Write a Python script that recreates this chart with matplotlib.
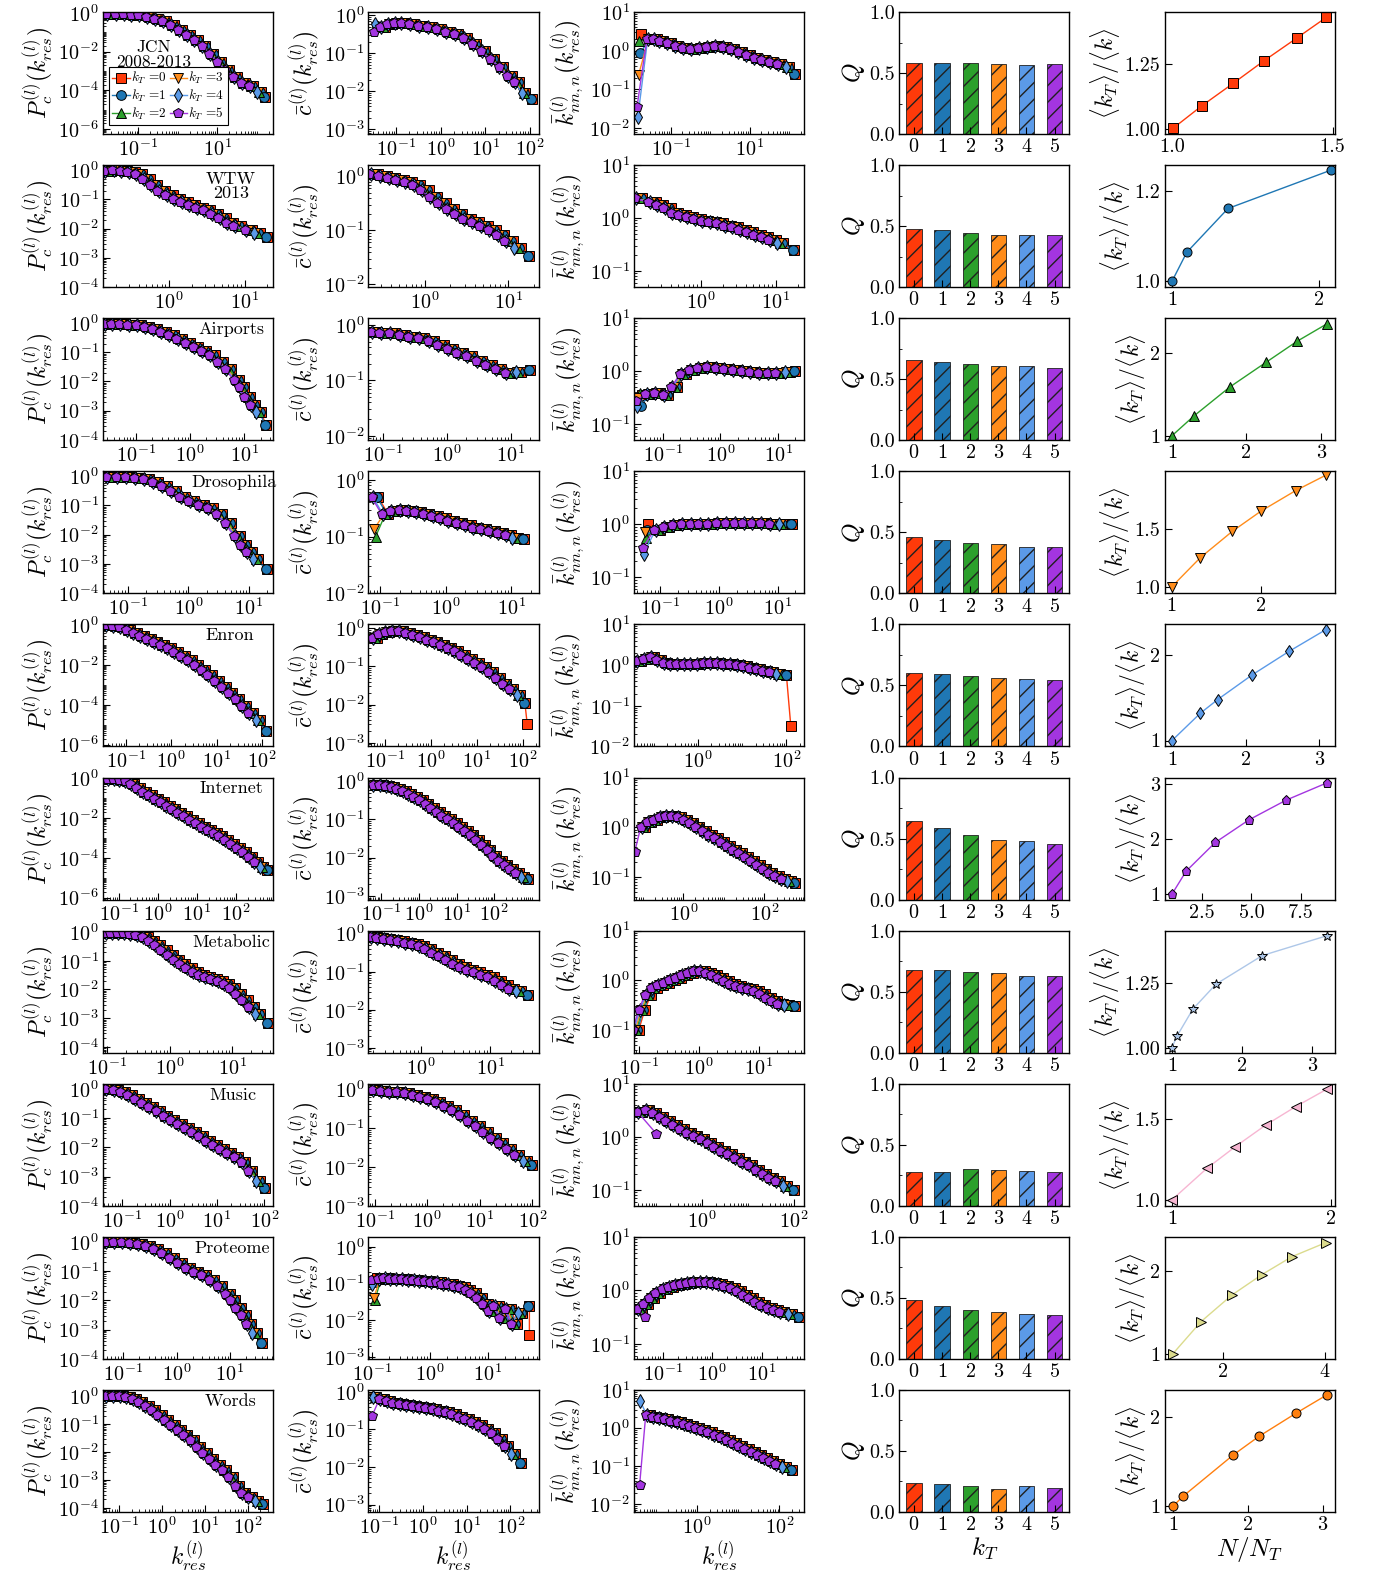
import numpy as np
import matplotlib
matplotlib.use('Agg')
import matplotlib.pyplot as plt
from matplotlib.ticker import FixedLocator, LogLocator, NullFormatter, LogFormatterSciNotation

plt.rcParams['mathtext.fontset'] = 'cm'
plt.rcParams['font.family'] = 'serif'
plt.rcParams['font.serif'] = ['cmr10']
plt.rcParams['axes.formatter.use_mathtext'] = True
plt.rcParams['axes.unicode_minus'] = False
plt.rcParams['hatch.linewidth'] = 1.0

# ---------------- data (log10 values) ----------------
NAMES = ['JCN', 'WTW', 'Airports', 'Drosophila', 'Enron',
         'Internet', 'Metabolic', 'Music', 'Proteome', 'Words']
KT = [0, 1, 2, 3, 4, 5]
# small shift of the renormalised curves and how many tail points each kT loses
KT_DX = [0.0, -0.02, -0.04, -0.06, -0.08, -0.10]
KT_CUT = [0, 0, 1, 1, 1, 2]

# JCN 2008-2013
jcn_pc_lx = [-1.72, -1.5, -1.3, -1.1, -0.9, -0.7, -0.5, -0.3, -0.1, 0.1, 0.3, 0.5, 0.7, 0.9, 1.1, 1.3, 1.5, 1.7, 1.9, 2.1, 2.2]
jcn_pc_ly = [-0.05, -0.06, -0.07, -0.09, -0.13, -0.2, -0.3, -0.45, -0.65, -0.9, -1.15, -1.4, -1.7, -2.1, -2.55, -2.95, -3.3, -3.6, -3.75, -4.1, -4.35]
jcn_c_lx = [-1.25, -1.1, -0.95, -0.8, -0.6, -0.4, -0.2, 0.0, 0.2, 0.4, 0.6, 0.8, 1.0, 1.2, 1.4, 1.6, 1.75, 1.9, 2.05]
jcn_c_ly = [-0.3, -0.22, -0.2, -0.21, -0.24, -0.27, -0.31, -0.37, -0.43, -0.5, -0.6, -0.75, -0.95, -1.15, -1.35, -1.6, -1.75, -2.05, -2.2]
jcn_c_head = (-1.4, [-0.3, -0.28, -0.3, -0.3, -0.24, -0.45])
jcn_knn_lx = [-1.5, -1.35, -1.2, -1.0, -0.8, -0.6, -0.4, -0.2, 0.0, 0.2, 0.4, 0.6, 0.8, 1.0, 1.2, 1.4, 1.6, 1.8, 2.0, 2.15]
jcn_knn_ly = [0.3, 0.3, 0.25, 0.2, 0.12, 0.06, 0.04, 0.06, 0.1, 0.12, 0.1, 0.05, -0.03, -0.1, -0.18, -0.25, -0.3, -0.35, -0.42, -0.6]
jcn_knn_head = (-1.75, [0.42, -0.05, 0.25, -0.62, -1.72, -1.45])
jcn_q = [0.58, 0.58, 0.58, 0.575, 0.565, 0.57]
jcn_nn = [1.003, 1.093, 1.19, 1.285, 1.39, 1.48]
jcn_kk = [1.004, 1.091, 1.177, 1.263, 1.353, 1.431]

# WTW 2013
wtw_pc_lx = [-0.76, -0.65, -0.55, -0.45, -0.35, -0.25, -0.15, -0.05, 0.05, 0.15, 0.25, 0.35, 0.45, 0.55, 0.65, 0.75, 0.85, 0.95, 1.1, 1.2, 1.3]
wtw_pc_ly = [-0.02, -0.01, -0.02, -0.05, -0.12, -0.3, -0.5, -0.7, -0.85, -0.98, -1.1, -1.2, -1.28, -1.35, -1.5, -1.65, -1.8, -1.9, -2.05, -2.15, -2.27]
wtw_c_lx = [-0.56, -0.45, -0.35, -0.25, -0.15, -0.05, 0.05, 0.15, 0.25, 0.35, 0.45, 0.55, 0.65, 0.75, 0.85, 0.95, 1.05, 1.15, 1.25]
wtw_c_ly = [0.05, 0.0, -0.03, -0.06, -0.1, -0.15, -0.25, -0.38, -0.5, -0.6, -0.7, -0.78, -0.85, -0.92, -1.0, -1.08, -1.2, -1.33, -1.47]
wtw_knn_lx = [-0.78, -0.6, -0.5, -0.4, -0.3, -0.2, -0.1, 0.0, 0.1, 0.2, 0.3, 0.4, 0.5, 0.6, 0.7, 0.8, 0.9, 1.0, 1.1, 1.25]
wtw_knn_ly = [0.37, 0.3, 0.25, 0.18, 0.1, 0.06, 0.02, -0.02, -0.06, -0.08, -0.1, -0.15, -0.18, -0.22, -0.27, -0.32, -0.37, -0.42, -0.48, -0.6]
wtw_q = [0.48, 0.47, 0.445, 0.43, 0.43, 0.425]
wtw_nn = [1.0, 1.1, 1.38, 2.08]
wtw_kk = [1.0, 1.064, 1.161, 1.246]

# Airports
air_pc_lx = [-1.49, -1.35, -1.2, -1.05, -0.9, -0.75, -0.6, -0.45, -0.3, -0.15, 0.0, 0.15, 0.3, 0.45, 0.6, 0.75, 0.9, 1.0, 1.1, 1.2, 1.3, 1.4]
air_pc_ly = [-0.03, -0.02, -0.03, -0.05, -0.08, -0.12, -0.2, -0.3, -0.42, -0.55, -0.68, -0.82, -0.95, -1.1, -1.32, -1.58, -1.95, -2.2, -2.55, -2.8, -3.05, -3.5]
air_c_lx = [-1.08, -0.95, -0.8, -0.65, -0.5, -0.35, -0.2, -0.05, 0.1, 0.25, 0.4, 0.55, 0.7, 0.85, 1.0, 1.15, 1.3]
air_c_ly = [-0.13, -0.14, -0.15, -0.18, -0.21, -0.24, -0.29, -0.36, -0.43, -0.5, -0.57, -0.65, -0.72, -0.8, -0.86, -0.85, -0.82]
air_knn_lx = [-1.2, -1.05, -0.9, -0.75, -0.6, -0.45, -0.3, -0.15, 0.0, 0.15, 0.3, 0.45, 0.6, 0.75, 0.9, 1.05, 1.2, 1.3]
air_knn_ly = [-0.42, -0.4, -0.45, -0.3, -0.05, 0.03, 0.07, 0.08, 0.07, 0.05, 0.03, 0.0, -0.02, -0.03, -0.04, -0.03, -0.01, 0.0]
air_knn_head = (-1.36, [-0.45, -0.66, -0.4, -0.5, -0.66, -0.56])
air_q = [0.66, 0.645, 0.625, 0.61, 0.605, 0.595]
air_nn = [1.0, 1.29, 1.78, 2.27, 2.68, 3.08]
air_kk = [1.0, 1.235, 1.59, 1.89, 2.14, 2.35]

# Drosophila
dro_pc_lx = [-1.26, -1.1, -0.95, -0.8, -0.65, -0.5, -0.35, -0.2, -0.05, 0.1, 0.25, 0.4, 0.55, 0.7, 0.85, 0.95, 1.05, 1.15, 1.3]
dro_pc_ly = [-0.01, -0.01, -0.02, -0.05, -0.1, -0.2, -0.35, -0.5, -0.7, -0.85, -0.97, -1.1, -1.3, -1.6, -2.05, -2.35, -2.6, -2.85, -3.2]
dro_c_lx = [-0.88, -0.75, -0.62, -0.5, -0.38, -0.25, -0.12, 0.0, 0.12, 0.25, 0.38, 0.5, 0.62, 0.75, 0.88, 1.0, 1.1, 1.2]
dro_c_ly = [-0.6, -0.55, -0.54, -0.55, -0.57, -0.6, -0.64, -0.68, -0.72, -0.76, -0.8, -0.84, -0.87, -0.9, -0.94, -0.98, -1.02, -1.05]
dro_c_head = (-1.03, [-0.31, -0.31, -1.0, -0.86, -0.31, -0.31])
dro_knn_lx = [-1.0, -0.85, -0.7, -0.55, -0.4, -0.25, -0.1, 0.05, 0.2, 0.35, 0.5, 0.65, 0.8, 0.95, 1.1, 1.25]
dro_knn_ly = [-0.1, -0.05, -0.02, 0.0, 0.0, 0.01, 0.01, 0.02, 0.02, 0.03, 0.03, 0.02, 0.02, 0.01, 0.0, 0.0]
dro_knn_head = (-1.2, [0.0, -0.1, -0.25, -0.15, -0.55, -0.45])
dro_q = [0.46, 0.44, 0.415, 0.405, 0.38, 0.38]
dro_nn = [1.0, 1.32, 1.68, 2.0, 2.39, 2.73]
dro_kk = [1.0, 1.25, 1.477, 1.65, 1.827, 1.96]

# Enron
enr_pc_lx = [-1.35, -1.2, -1.05, -0.9, -0.75, -0.6, -0.45, -0.3, -0.15, 0.0, 0.15, 0.3, 0.45, 0.6, 0.75, 0.9, 1.05, 1.2, 1.35, 1.5, 1.65, 1.8, 1.95, 2.1]
enr_pc_ly = [0.0, -0.03, -0.1, -0.25, -0.4, -0.55, -0.7, -0.85, -1.0, -1.15, -1.35, -1.55, -1.75, -2.0, -2.25, -2.5, -2.8, -3.1, -3.4, -3.7, -4.05, -4.4, -4.75, -5.3]
enr_c_lx = [-1.17, -1.05, -0.9, -0.75, -0.6, -0.45, -0.3, -0.15, 0.0, 0.15, 0.3, 0.45, 0.6, 0.75, 0.9, 1.05, 1.2, 1.35, 1.5, 1.65, 1.8, 1.95, 2.05]
enr_c_ly = [-0.25, -0.15, -0.1, -0.06, -0.08, -0.12, -0.17, -0.23, -0.3, -0.37, -0.44, -0.52, -0.6, -0.7, -0.8, -0.9, -1.02, -1.15, -1.3, -1.45, -1.6, -1.75, -1.95]
enr_c_tail = {0: (2.1, -2.5)}
enr_knn_lx = [-1.3, -1.15, -1.0, -0.85, -0.7, -0.55, -0.4, -0.25, -0.1, 0.05, 0.2, 0.35, 0.5, 0.65, 0.8, 0.95, 1.1, 1.25, 1.4, 1.55, 1.7, 1.85, 2.0]
enr_knn_ly = [0.1, 0.15, 0.2, 0.12, 0.05, 0.03, 0.02, 0.02, 0.02, 0.03, 0.04, 0.04, 0.04, 0.03, 0.02, 0.0, -0.03, -0.07, -0.1, -0.14, -0.18, -0.22, -0.25]
enr_knn_tail = {0: (2.1, -1.5)}
enr_q = [0.6, 0.59, 0.58, 0.565, 0.55, 0.545]
enr_nn = [1.0, 1.385, 1.62, 2.09, 2.59, 3.09]
enr_kk = [1.0, 1.32, 1.48, 1.77, 2.045, 2.3]

# Internet
int_pc_lx = [-1.2, -1.05, -0.9, -0.75, -0.6, -0.45, -0.3, -0.15, 0.0, 0.15, 0.3, 0.45, 0.6, 0.75, 0.9, 1.05, 1.2, 1.35, 1.5, 1.65, 1.8, 1.95, 2.1, 2.25, 2.4, 2.55, 2.7, 2.8]
int_pc_ly = [-0.01, -0.02, -0.06, -0.15, -0.3, -0.5, -0.68, -0.85, -1.02, -1.2, -1.38, -1.55, -1.72, -1.9, -2.08, -2.25, -2.42, -2.58, -2.75, -2.92, -3.1, -3.3, -3.5, -3.7, -3.95, -4.2, -4.45, -4.6]
int_c_lx = [-1.13, -0.95, -0.8, -0.65, -0.5, -0.35, -0.2, -0.05, 0.1, 0.25, 0.4, 0.55, 0.7, 0.85, 1.0, 1.15, 1.3, 1.45, 1.6, 1.75, 1.9, 2.05, 2.2, 2.35, 2.5, 2.65, 2.8, 2.9]
int_c_ly = [-0.1, -0.1, -0.13, -0.16, -0.2, -0.25, -0.32, -0.4, -0.5, -0.6, -0.7, -0.8, -0.9, -1.0, -1.1, -1.2, -1.3, -1.42, -1.55, -1.68, -1.8, -1.95, -2.1, -2.2, -2.3, -2.4, -2.5, -2.55]
int_knn_lx = [-0.95, -0.8, -0.65, -0.5, -0.35, -0.2, -0.05, 0.1, 0.25, 0.4, 0.55, 0.7, 0.85, 1.0, 1.15, 1.3, 1.45, 1.6, 1.75, 1.9, 2.05, 2.2, 2.35, 2.5, 2.65, 2.75]
int_knn_ly = [0.0, 0.1, 0.15, 0.2, 0.22, 0.22, 0.2, 0.15, 0.08, 0.0, -0.08, -0.15, -0.22, -0.3, -0.38, -0.45, -0.52, -0.6, -0.68, -0.76, -0.84, -0.92, -0.98, -1.03, -1.08, -1.12]
int_knn_head = (-1.1, [None, None, None, None, None, -0.5])
int_q = [0.64, 0.59, 0.53, 0.49, 0.48, 0.455]
int_nn = [0.995, 1.70, 3.17, 4.87, 6.76, 8.80]
int_kk = [1.0, 1.41, 1.93, 2.34, 2.7, 3.01]

# Metabolic
met_pc_lx = [-0.95, -0.85, -0.75, -0.65, -0.55, -0.45, -0.35, -0.25, -0.15, -0.05, 0.05, 0.15, 0.25, 0.35, 0.45, 0.55, 0.65, 0.75, 0.85, 0.95, 1.05, 1.15, 1.25, 1.35, 1.45, 1.58]
met_pc_ly = [-0.02, -0.02, -0.03, -0.04, -0.06, -0.1, -0.17, -0.3, -0.45, -0.62, -0.8, -0.98, -1.12, -1.25, -1.38, -1.48, -1.55, -1.63, -1.72, -1.82, -1.95, -2.15, -2.35, -2.6, -2.85, -3.15]
met_c_lx = [-0.64, -0.55, -0.45, -0.35, -0.25, -0.15, -0.05, 0.05, 0.15, 0.25, 0.35, 0.45, 0.55, 0.65, 0.75, 0.85, 0.95, 1.05, 1.15, 1.25, 1.35, 1.45, 1.55]
met_c_ly = [-0.1, -0.12, -0.14, -0.17, -0.2, -0.24, -0.28, -0.33, -0.4, -0.5, -0.6, -0.7, -0.8, -0.88, -0.95, -1.02, -1.08, -1.15, -1.25, -1.35, -1.45, -1.52, -1.6]
met_knn_lx = [-1.0, -0.9, -0.8, -0.7, -0.6, -0.5, -0.4, -0.3, -0.2, -0.1, 0.0, 0.1, 0.2, 0.3, 0.4, 0.5, 0.6, 0.7, 0.8, 0.9, 1.0, 1.1, 1.2, 1.3, 1.4, 1.5, 1.6]
met_knn_ly = [-1.0, -0.6, -0.3, -0.15, -0.1, -0.05, 0.0, 0.05, 0.1, 0.15, 0.18, 0.18, 0.15, 0.1, 0.05, -0.02, -0.08, -0.12, -0.15, -0.18, -0.22, -0.28, -0.35, -0.42, -0.48, -0.5, -0.52]
met_q = [0.68, 0.675, 0.665, 0.655, 0.625, 0.625]
met_nn = [1.0, 1.075, 1.3, 1.63, 2.29, 3.21]
met_kk = [1.0, 1.046, 1.15, 1.247, 1.358, 1.435]

# Music
mus_pc_lx = [-1.26, -1.1, -0.95, -0.8, -0.65, -0.5, -0.35, -0.2, -0.05, 0.1, 0.25, 0.4, 0.55, 0.7, 0.85, 1.0, 1.15, 1.3, 1.45, 1.6, 1.75, 1.9, 2.02]
mus_pc_ly = [-0.02, -0.03, -0.1, -0.22, -0.35, -0.48, -0.62, -0.77, -0.92, -1.08, -1.22, -1.35, -1.48, -1.62, -1.77, -1.92, -2.05, -2.18, -2.32, -2.5, -2.8, -3.15, -3.4]
mus_c_lx = [-0.95, -0.8, -0.65, -0.5, -0.35, -0.2, -0.05, 0.1, 0.25, 0.4, 0.55, 0.7, 0.85, 1.0, 1.15, 1.3, 1.45, 1.6, 1.75, 1.9, 2.0]
mus_c_ly = [-0.04, -0.05, -0.07, -0.09, -0.12, -0.15, -0.2, -0.26, -0.34, -0.44, -0.55, -0.68, -0.82, -0.96, -1.1, -1.25, -1.4, -1.55, -1.7, -1.85, -1.95]
mus_knn_lx = [-1.31, -1.15, -1.0, -0.85, -0.7, -0.55, -0.4, -0.25, -0.1, 0.05, 0.2, 0.35, 0.5, 0.65, 0.8, 0.95, 1.1, 1.25, 1.4, 1.55, 1.7, 1.85, 2.0]
mus_knn_ly = [0.47, 0.5, 0.45, 0.37, 0.3, 0.22, 0.15, 0.08, 0.02, -0.05, -0.12, -0.19, -0.26, -0.33, -0.4, -0.47, -0.54, -0.62, -0.7, -0.77, -0.84, -0.92, -1.0]
mus_knn_head = (-0.9, [None, None, None, None, None, 0.06])
mus_q = [0.28, 0.28, 0.30, 0.29, 0.285, 0.275]
mus_nn = [1.0, 1.22, 1.4, 1.59, 1.78, 1.98]
mus_kk = [1.0, 1.195, 1.33, 1.463, 1.578, 1.688]

# Proteome
pro_pc_lx = [-1.25, -1.1, -0.95, -0.8, -0.65, -0.5, -0.35, -0.2, -0.05, 0.1, 0.25, 0.4, 0.55, 0.7, 0.85, 1.0, 1.1, 1.2, 1.3, 1.4, 1.5, 1.6]
pro_pc_ly = [-0.02, -0.02, -0.02, -0.04, -0.08, -0.14, -0.25, -0.38, -0.55, -0.72, -0.88, -1.02, -1.15, -1.32, -1.52, -1.78, -2.0, -2.25, -2.5, -2.8, -3.1, -3.45]
pro_c_lx = [-0.8, -0.7, -0.6, -0.5, -0.4, -0.3, -0.2, -0.1, 0.0, 0.1, 0.2, 0.3, 0.4, 0.5, 0.6, 0.7, 0.8, 0.9, 1.0, 1.1, 1.2, 1.3, 1.4, 1.5, 1.6, 1.72]
pro_c_ly = [-0.88, -0.85, -0.87, -0.88, -0.87, -0.9, -0.9, -0.92, -0.93, -0.95, -0.97, -1.0, -1.02, -1.06, -1.1, -1.18, -1.25, -1.4, -1.55, -1.75, -1.6, -1.95, -1.7, -2.1, -1.8, -1.6]
pro_c_head = (-0.91, [-0.85, -0.95, -1.45, -1.4, -1.0, -0.9])
pro_c_tail = {0: (1.72, -2.4)}
pro_knn_lx = [-1.42, -1.3, -1.18, -1.05, -0.92, -0.8, -0.67, -0.55, -0.42, -0.3, -0.17, -0.05, 0.08, 0.2, 0.32, 0.45, 0.57, 0.7, 0.82, 0.95, 1.07, 1.2, 1.32, 1.45, 1.6, 1.74]
pro_knn_ly = [-0.35, -0.25, -0.15, -0.05, 0.02, 0.07, 0.1, 0.12, 0.14, 0.15, 0.16, 0.16, 0.14, 0.12, 0.08, 0.04, -0.02, -0.08, -0.15, -0.22, -0.28, -0.33, -0.37, -0.4, -0.45, -0.5]
pro_knn_head = (-1.25, [None, None, None, None, None, -0.5])
pro_q = [0.48, 0.43, 0.40, 0.385, 0.365, 0.36]
pro_nn = [1.0, 1.56, 2.17, 2.76, 3.35, 4.02]
pro_kk = [1.0, 1.39, 1.71, 1.955, 2.17, 2.34]

# Words
wor_pc_lx = [-1.22, -1.05, -0.9, -0.75, -0.6, -0.45, -0.3, -0.15, 0.0, 0.15, 0.3, 0.45, 0.6, 0.75, 0.9, 1.05, 1.2, 1.35, 1.5, 1.65, 1.8, 1.95, 2.1, 2.25, 2.35]
wor_pc_ly = [0.02, 0.02, 0.01, -0.01, -0.08, -0.2, -0.35, -0.5, -0.68, -0.85, -1.02, -1.2, -1.38, -1.58, -1.82, -2.05, -2.25, -2.45, -2.65, -2.9, -3.2, -3.45, -3.6, -3.75, -3.85]
wor_c_lx = [-0.9, -0.75, -0.6, -0.45, -0.3, -0.15, 0.0, 0.15, 0.3, 0.45, 0.6, 0.75, 0.9, 1.05, 1.2, 1.35, 1.5, 1.65, 1.8, 1.95, 2.1, 2.25]
wor_c_ly = [-0.2, -0.25, -0.3, -0.32, -0.35, -0.37, -0.4, -0.43, -0.47, -0.5, -0.55, -0.6, -0.66, -0.73, -0.8, -0.88, -0.98, -1.1, -1.25, -1.45, -1.65, -1.9]
wor_c_head = (-1.07, [-0.15, -0.15, -0.15, -0.15, -0.15, -0.65])
wor_knn_lx = [-1.15, -1.0, -0.85, -0.7, -0.55, -0.4, -0.25, -0.1, 0.05, 0.2, 0.35, 0.5, 0.65, 0.8, 0.95, 1.1, 1.25, 1.4, 1.55, 1.7, 1.85, 2.0, 2.15, 2.3]
wor_knn_ly = [0.35, 0.3, 0.27, 0.23, 0.19, 0.15, 0.1, 0.05, 0.0, -0.05, -0.11, -0.17, -0.24, -0.31, -0.38, -0.46, -0.54, -0.62, -0.7, -0.78, -0.86, -0.94, -1.02, -1.1]
wor_knn_head = (-1.3, [None, None, None, None, 0.7, -1.5])
wor_q = [0.24, 0.23, 0.21, 0.185, 0.21, 0.20]
wor_nn = [1.0, 1.14, 1.81, 2.15, 2.64, 3.06]
wor_kk = [1.0, 1.116, 1.58, 1.787, 2.045, 2.255]

PC = [(jcn_pc_lx, jcn_pc_ly), (wtw_pc_lx, wtw_pc_ly), (air_pc_lx, air_pc_ly), (dro_pc_lx, dro_pc_ly),
      (enr_pc_lx, enr_pc_ly), (int_pc_lx, int_pc_ly), (met_pc_lx, met_pc_ly), (mus_pc_lx, mus_pc_ly),
      (pro_pc_lx, pro_pc_ly), (wor_pc_lx, wor_pc_ly)]
CC = [(jcn_c_lx, jcn_c_ly), (wtw_c_lx, wtw_c_ly), (air_c_lx, air_c_ly), (dro_c_lx, dro_c_ly),
      (enr_c_lx, enr_c_ly), (int_c_lx, int_c_ly), (met_c_lx, met_c_ly), (mus_c_lx, mus_c_ly),
      (pro_c_lx, pro_c_ly), (wor_c_lx, wor_c_ly)]
KNN = [(jcn_knn_lx, jcn_knn_ly), (wtw_knn_lx, wtw_knn_ly), (air_knn_lx, air_knn_ly), (dro_knn_lx, dro_knn_ly),
       (enr_knn_lx, enr_knn_ly), (int_knn_lx, int_knn_ly), (met_knn_lx, met_knn_ly), (mus_knn_lx, mus_knn_ly),
       (pro_knn_lx, pro_knn_ly), (wor_knn_lx, wor_knn_ly)]
C_HEAD = {0: jcn_c_head, 3: dro_c_head, 8: pro_c_head, 9: wor_c_head}
KNN_HEAD = {0: jcn_knn_head, 2: air_knn_head, 3: dro_knn_head, 5: int_knn_head,
            7: mus_knn_head, 8: pro_knn_head, 9: wor_knn_head}
C_TAIL = {4: enr_c_tail, 8: pro_c_tail}
KNN_TAIL = {4: enr_knn_tail}
Q = [jcn_q, wtw_q, air_q, dro_q, enr_q, int_q, met_q, mus_q, pro_q, wor_q]
NN = [jcn_nn, wtw_nn, air_nn, dro_nn, enr_nn, int_nn, met_nn, mus_nn, pro_nn, wor_nn]
KK = [jcn_kk, wtw_kk, air_kk, dro_kk, enr_kk, int_kk, met_kk, mus_kk, pro_kk, wor_kk]

# ---------------- styles and axis layout ----------------
COLORS = ['#ff3a0a', '#1f77b4', '#2ca02c', '#ff8c1a', '#5b9ae8', '#a335e0']
MARKERS = ['s', 'o', '^', 'v', 'd', 'p']
LAST_COLORS = COLORS + ['#aec7e8', '#f7b6d2', '#dbdb8d', '#ff7f0e']
LAST_MARKERS = ['s', 'o', '^', 'v', 'd', 'p', '*', '<', '>', 'o']

PC_XLIM = [(-1.9, 2.42), (-0.87, 1.38), (-1.6, 1.53), (-1.41, 1.4), (-1.5, 2.25),
           (-1.4, 2.95), (-1.07, 1.66), (-1.41, 2.19), (-1.38, 1.81), (-1.37, 2.6)]
PC_YLIM = [(-6.25, 0.04), (-4.0, 0.17), (-4.02, 0.17), (-4.02, 0.17), (-6.1, 0.05),
           (-6.1, 0.05), (-4.2, 0.05), (-4.0, 0.17), (-4.0, 0.17), (-4.15, 0.23)]
PC_XT = [[-1, 1], [0, 1], [-1, 0, 1], [-1, 0, 1], [-1, 0, 1, 2],
         [-1, 0, 1, 2], [-1, 0, 1], [-1, 0, 1, 2], [-1, 0, 1], [-1, 0, 1, 2]]
C_XLIM = [(-1.62, 2.2), (-0.67, 1.36), (-1.22, 1.43), (-1.18, 1.42), (-1.35, 2.35),
          (-1.34, 3.18), (-0.76, 1.7), (-1.12, 2.12), (-1.06, 1.88), (-1.25, 2.65)]
C_YLIM = [(-3.13, 0.09), (-2.05, 0.21), (-2.08, 0.12), (-2.0, 0.15), (-3.1, 0.1),
          (-3.1, 0.1), (-3.13, 0.08), (-3.0, 0.13), (-3.05, 0.27), (-3.2, 0.05)]
C_XT = [[-1, 0, 1, 2], [0, 1], [-1, 0, 1], [-1, 0, 1], [-1, 0, 1, 2],
        [-1, 0, 1, 2], [0, 1], [-1, 0, 1, 2], [-1, 0, 1], [-1, 0, 1, 2]]
K_XLIM = [(-1.93, 2.38), (-0.89, 1.38), (-1.5, 1.45), (-1.45, 1.45), (-1.46, 2.4),
          (-1.22, 2.98), (-1.08, 1.75), (-1.49, 2.23), (-1.58, 1.85), (-1.54, 2.6)]
K_YLIM = [(-2.15, 1.0), (-1.31, 1.0), (-1.3, 1.0), (-1.3, 1.0), (-2.0, 1.0),
          (-1.45, 1.0), (-1.45, 1.0), (-1.3, 1.0), (-1.28, 1.0), (-2.2, 1.0)]
K_XT = [[-1, 1], [0, 1], [-1, 0, 1], [-1, 0, 1], [0, 2],
        [0, 2], [-1, 0, 1], [0, 2], [-1, 0, 1], [0, 2]]

L_XLIM = [(0.977, 1.507), (0.95, 2.105), (0.9, 3.19), (0.92, 2.83), (0.9, 3.21),
          (0.61, 9.22), (0.896, 3.325), (0.954, 2.027), (0.84, 4.2), (0.89, 3.165)]
L_YLIM = [(0.982, 1.452), (0.987, 1.257), (0.944, 2.42), (0.943, 1.993), (0.93, 2.36),
          (0.893, 3.11), (0.98, 1.455), (0.963, 1.72), (0.94, 2.41), (0.936, 2.31)]
L_XT = [([1.0, 1.5], ['1.0', '1.5']), ([1, 2], ['1', '2']), ([1, 2, 3], ['1', '2', '3']),
        ([1, 2], ['1', '2']), ([1, 2, 3], ['1', '2', '3']), ([2.5, 5.0, 7.5], ['2.5', '5.0', '7.5']),
        ([1, 2, 3], ['1', '2', '3']), ([1, 2], ['1', '2']), ([2, 4], ['2', '4']), ([1, 2, 3], ['1', '2', '3'])]
L_YT = [([1.0, 1.25], ['1.00', '1.25']), ([1.0, 1.2], ['1.0', '1.2']), ([1, 2], ['1', '2']),
        ([1.0, 1.5], ['1.0', '1.5']), ([1, 2], ['1', '2']), ([1, 2, 3], ['1', '2', '3']),
        ([1.0, 1.25], ['1.00', '1.25']), ([1.0, 1.5], ['1.0', '1.5']), ([1, 2], ['1', '2']), ([1, 2], ['1', '2'])]

LABEL_POS = [None, (0.75, 0.95, 'center'), (0.95, 0.97, 'right'), (1.02, 0.97, 'right'),
             (0.89, 0.97, 'right'), (0.94, 0.97, 'right'), (0.98, 0.97, 'right'),
             (0.9, 0.97, 'right'), (0.98, 0.97, 'right'), (0.9, 0.97, 'right')]
LABEL_TXT = [None, 'WTW\n2013', 'Airports', 'Drosophila', 'Enron', 'Internet',
             'Metabolic', 'Music', 'Proteome', 'Words']

TICK_FS = 14.5
LAB_FS = 17


def style_ticks(ax):
    ax.tick_params(which='both', direction='in', top=False, right=False, labelsize=TICK_FS)
    ax.tick_params(which='major', length=5, width=0.8, pad=3)
    ax.tick_params(which='minor', length=2.5, width=0.6)


def log_axes(ax, xlim, ylim, xt, yt):
    ax.set_xscale('log')
    ax.set_yscale('log')
    ax.set_xlim(10 ** xlim[0], 10 ** xlim[1])
    ax.set_ylim(10 ** ylim[0], 10 ** ylim[1])
    for axis, t in ((ax.xaxis, xt), (ax.yaxis, yt)):
        axis.set_major_locator(FixedLocator(10.0 ** np.array(t)))
        axis.set_major_formatter(LogFormatterSciNotation())
        axis.set_minor_locator(LogLocator(base=10, subs=np.arange(1, 10), numticks=60))
        axis.set_minor_formatter(NullFormatter())
    style_ticks(ax)


def draw_kt(ax, lx, ly, head=None, tail=None):
    lines = []
    for k in KT:
        n = len(lx) - KT_CUT[k]
        xs = list(lx[:n])
        ys = list(ly[:n])
        if head is not None and head[1][k] is not None:
            xs = [head[0]] + xs
            ys = [head[1][k]] + ys
        if tail is not None and k in tail:
            xs.append(tail[k][0])
            ys.append(tail[k][1])
        xs = 10 ** (np.array(xs) + KT_DX[k])
        ys = 10 ** np.array(ys)
        ln, = ax.plot(xs, ys, marker=MARKERS[k], color=COLORS[k], mec='k', mew=0.7,
                      ms=7, lw=1, label=r'$k_T$ =%d' % k)
        lines.append(ln)
    return lines


fig, axes = plt.subplots(10, 5, figsize=(13.79, 15.76), dpi=100)
fig.subplots_adjust(left=0.0747, right=0.968, top=0.9924, bottom=0.0406, wspace=0.559, hspace=0.254)

for r in range(10):
    a1, a2, a3, a4, a5 = axes[r]

    # cumulative degree distribution
    lines = draw_kt(a1, *PC[r])
    yt = [-6, -4, -2, 0] if PC_YLIM[r][0] < -5 else [-4, -3, -2, -1, 0]
    log_axes(a1, PC_XLIM[r], PC_YLIM[r], PC_XT[r], yt)
    a1.set_ylabel(r'$P_c^{(l)}(k_{res}^{(l)})$', fontsize=LAB_FS, labelpad=2)
    if r == 0:
        a1.text(0.3, 0.65, 'JCN\n2008-2013', transform=a1.transAxes, ha='center', va='center',
                fontsize=12.5, linespacing=0.95)
        leg = a1.legend(handles=lines, ncol=2, loc='lower left', bbox_to_anchor=(0.02, 0.05),
                        fontsize=9.5, handlelength=1.3, handletextpad=0.1, columnspacing=0.25,
                        labelspacing=0.12, borderpad=0.25, borderaxespad=0.2,
                        fancybox=False, framealpha=1, edgecolor='k')
        leg.get_frame().set_linewidth(0.8)
    else:
        px, py, ha = LABEL_POS[r]
        a1.text(px, py, LABEL_TXT[r], transform=a1.transAxes, ha=ha, va='top',
                fontsize=13, linespacing=0.95)

    # clustering spectrum
    draw_kt(a2, *CC[r], head=C_HEAD.get(r), tail=C_TAIL.get(r))
    yt = [-3, -2, -1, 0] if C_YLIM[r][0] < -2.5 else [-2, -1, 0]
    log_axes(a2, C_XLIM[r], C_YLIM[r], C_XT[r], yt)
    a2.set_ylabel(r'$\bar{c}^{(l)}(k_{res}^{(l)})$', fontsize=LAB_FS, labelpad=2)

    # degree-degree correlations
    draw_kt(a3, *KNN[r], head=KNN_HEAD.get(r), tail=KNN_TAIL.get(r))
    yt = [-2, -1, 0, 1] if K_YLIM[r][0] < -1.9 else [-1, 0, 1]
    log_axes(a3, K_XLIM[r], K_YLIM[r], K_XT[r], yt)
    a3.set_ylabel(r'$\bar{k}_{nn,n}^{(l)}(k_{res}^{(l)})$', fontsize=LAB_FS, labelpad=2)

    # modularity bars
    a4.bar(KT, Q[r], width=0.55, color=COLORS, edgecolor='#202020', linewidth=0.6, hatch='//')
    a4.set_xlim(-0.53, 5.53)
    a4.set_ylim(0, 1)
    a4.set_xticks(KT)
    a4.set_yticks([0.0, 0.5, 1.0], ['0.0', '0.5', '1.0'])
    a4.set_yticks([0.25, 0.75], minor=True)
    style_ticks(a4)
    a4.set_ylabel(r'$Q$', fontsize=LAB_FS + 1, labelpad=2)

    # average degree ratio
    a5.plot(NN[r], KK[r], marker=LAST_MARKERS[r], color=LAST_COLORS[r], mec='k', mew=0.7,
            ms=6.5 if LAST_MARKERS[r] != '*' else 7, lw=1)
    a5.set_xlim(*L_XLIM[r])
    a5.set_ylim(*L_YLIM[r])
    a5.set_xticks(*L_XT[r])
    a5.set_yticks(*L_YT[r])
    style_ticks(a5)
    a5.set_ylabel(r'$\langle k_T\rangle/\langle k\rangle$', fontsize=LAB_FS, labelpad=2)

    for a in axes[r]:
        for s in a.spines.values():
            s.set_linewidth(1.0)

for c in range(3):
    axes[9, c].set_xlabel(r'$k_{res}^{(l)}$', fontsize=LAB_FS, labelpad=1)
axes[9, 3].set_xlabel(r'$k_T$', fontsize=LAB_FS + 1, labelpad=1)
axes[9, 4].set_xlabel(r'$N/N_T$', fontsize=LAB_FS + 1, labelpad=1)

fig.savefig('out.png', dpi=100)
